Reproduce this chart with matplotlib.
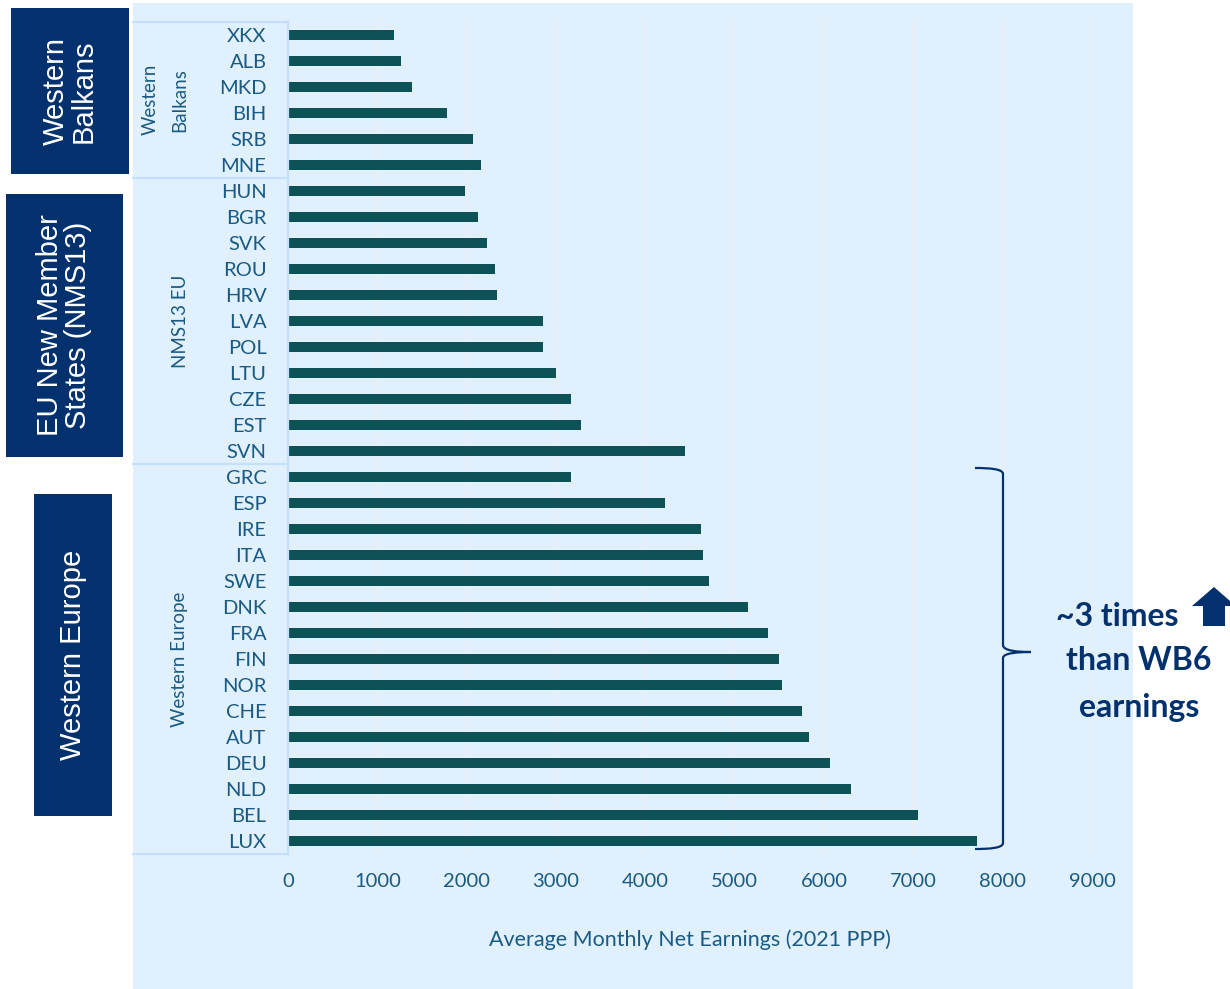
import matplotlib
matplotlib.use("Agg")
import matplotlib.pyplot as plt
from matplotlib.patches import PathPatch, Rectangle, Polygon
from matplotlib.path import Path
from matplotlib.transforms import Affine2D

countries = ["XKX", "ALB", "MKD", "BIH", "SRB", "MNE",
             "HUN", "BGR", "SVK", "ROU", "HRV", "LVA", "POL", "LTU", "CZE", "EST", "SVN",
             "GRC", "ESP", "IRE", "ITA", "SWE", "DNK", "FRA", "FIN", "NOR", "CHE", "AUT", "DEU", "NLD", "BEL", "LUX"]
earnings = [1186, 1264, 1387, 1778, 2069, 2159,
            1980, 2125, 2226, 2315, 2338, 2852, 2852, 2998, 3166, 3277, 4441,
            3166, 4217, 4620, 4642, 4709, 5145, 5369, 5492, 5526, 5749, 5828, 6063, 6298, 7047, 7718]
x_ticks = [0, 1000, 2000, 3000, 4000, 5000, 6000, 7000, 8000, 9000]

W, H = 1230, 989
NAVY = "#03316E"
TEAL = "#0D5257"
LABEL = "#1B5A82"
PANEL = "#E0F1FD"
EDGE = "#C3DFFB"
GRID = "#EBEFF3"

fig = plt.figure(figsize=(W / 100, H / 100), dpi=100, facecolor="white")
# pixel coordinates with the origin at the top left, for everything around the chart
px = Affine2D().scale(1 / W, -1 / H).translate(0, 1) + fig.transFigure

fig.add_artist(Rectangle((133, 3), 1000, 986, transform=px, fc=PANEL, ec="none", zorder=-1))

ax = fig.add_axes([288 / W, 1 - 854 / H, (1092 - 288) / W, (854 - 22) / H], facecolor="none")
pos = list(range(len(countries)))
ax.barh(pos, earnings, height=0.37, color=TEAL, zorder=3)
ax.set_ylim(len(countries) - 0.5, -0.5)
ax.set_xlim(0, 9000)
ax.set_yticks(pos, countries, fontfamily="Lato", fontsize=14.5, color=LABEL)
ax.set_xticks(x_ticks, [str(t) for t in x_ticks], fontfamily="Lato", fontsize=14.5, color=LABEL)
ax.tick_params(axis="y", length=0, pad=15.5)
ax.tick_params(axis="x", length=0, pad=14)
ax.grid(axis="x", color=GRID, linewidth=1.2, zorder=1)
ax.set_axisbelow(True)
for s in ax.spines.values():
    s.set_visible(False)
ax.set_xlabel("Average Monthly Net Earnings (2021 PPP)", fontfamily="Lato", fontsize=15.5,
              color=LABEL, labelpad=28)


def add_line(xs, ys):
    fig.add_artist(plt.Line2D(xs, ys, transform=px, color=EDGE, lw=1.6, zorder=2))


# group separators left of the bars
for y in [22, 178, 464, 854]:
    add_line([133, 288], [y, y])
add_line([288, 288], [22, 854])

# rotated group names inside the panel
fig.text(150 / W, 1 - 99 / H, "Western", transform=fig.transFigure, rotation=90, ha="center", va="center",
         fontfamily="Lato", fontsize=13.5, color=LABEL)
fig.text(180 / W, 1 - 100 / H, "Balkans", rotation=90, ha="center", va="center",
         fontfamily="Lato", fontsize=13.5, color=LABEL)
fig.text(180 / W, 1 - 321 / H, "NMS13 EU", rotation=90, ha="center", va="center",
         fontfamily="Lato", fontsize=13.5, color=LABEL)
fig.text(180 / W, 1 - 659 / H, "Western Europe", rotation=90, ha="center", va="center",
         fontfamily="Lato", fontsize=13.5, color=LABEL)

# navy header boxes at the far left
boxes = [((11, 8), 118, 166, "Western\nBalkans"),
         ((6, 194), 117, 263, "EU New Member\nStates (NMS13)"),
         ((34, 494), 78, 322, "Western Europe")]
for (x0, y0), w, h, name in boxes:
    fig.add_artist(Rectangle((x0, y0), w, h, transform=px, fc=NAVY, ec="none", zorder=2))
    fig.text((x0 + w / 2) / W, 1 - (y0 + h / 2) / H, name, rotation=90, ha="center", va="center",
             multialignment="center", fontfamily="Liberation Sans", fontsize=21, color="white",
             linespacing=1.0, zorder=3)

# curly brace over the Western Europe bars
verts = [(975, 468), (990, 468), (1003, 469), (1003, 474),
         (1003, 645),
         (1003, 651), (1018, 652), (1031, 652),
         (1018, 652), (1003, 653), (1003, 658),
         (1003, 843),
         (1003, 848), (990, 849), (975, 849)]
codes = [Path.MOVETO, Path.CURVE4, Path.CURVE4, Path.CURVE4,
         Path.LINETO,
         Path.CURVE4, Path.CURVE4, Path.CURVE4,
         Path.CURVE4, Path.CURVE4, Path.CURVE4,
         Path.LINETO,
         Path.CURVE4, Path.CURVE4, Path.CURVE4]
fig.add_artist(PathPatch(Path(verts, codes), transform=px, fc="none", ec=NAVY, lw=1.6, zorder=4))

# callout text and up arrow
for y, line in [(616, "~3 times"), (661, "than WB6"), (707, "earnings")]:
    x = 1117 if line == "~3 times" else 1139
    fig.text(x / W, 1 - y / H, line, ha="center", va="center", fontfamily="Lato", fontweight="bold",
             fontsize=23, color=NAVY, zorder=5)
arrow = [(1192, 606), (1214, 587), (1230, 601), (1230, 606), (1225, 606), (1225, 626), (1203, 626), (1203, 606)]
fig.add_artist(Polygon(arrow, closed=True, transform=px, fc=NAVY, ec="none", zorder=5))

fig.savefig("out.png", dpi=100)
